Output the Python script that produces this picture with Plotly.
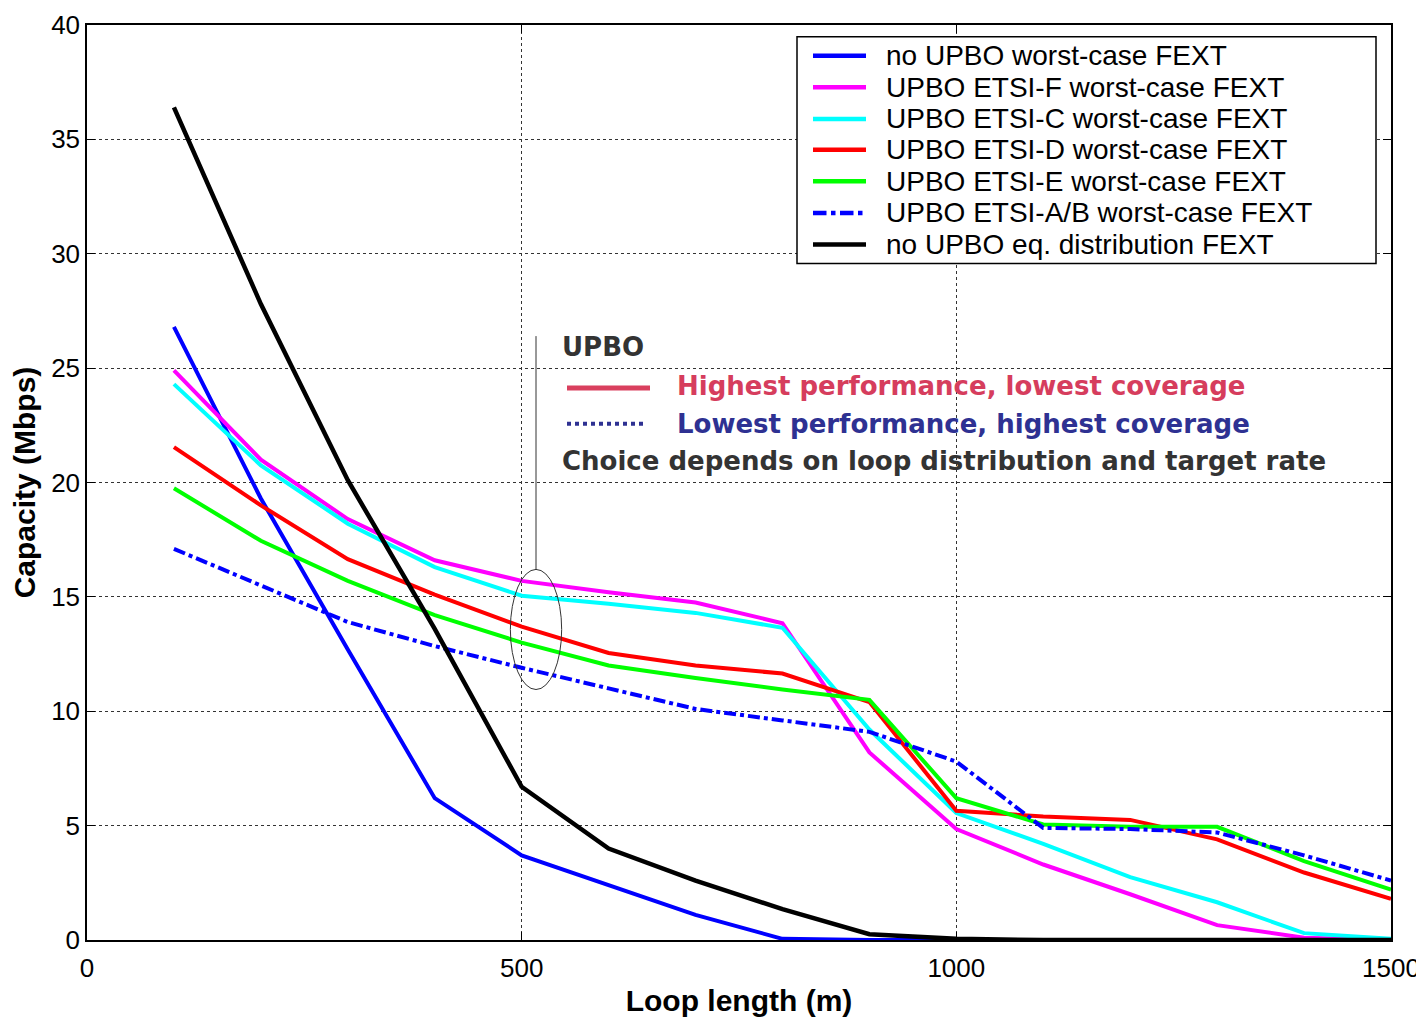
import plotly.graph_objects as go

loop_length = [100, 200, 300, 400, 500, 600, 700, 800, 900, 1000, 1100, 1200, 1300, 1400, 1500]

no_upbo_wc = [26.8, 19.3, 12.7, 6.2, 3.7, 2.4, 1.1, 0.05, 0.0, 0.0, 0.0, 0.0, 0.0, 0.0, 0.0]
etsi_f = [24.9, 21.0, 18.4, 16.6, 15.7, 15.2, 14.75, 13.85, 8.2, 4.85, 3.3, 2.0, 0.65, 0.1, 0.0]
etsi_c = [24.3, 20.75, 18.2, 16.3, 15.05, 14.7, 14.3, 13.65, 9.2, 5.55, 4.2, 2.75, 1.65, 0.3, 0.05]
etsi_d = [21.55, 19.0, 16.65, 15.1, 13.7, 12.55, 12.0, 11.65, 10.4, 5.65, 5.4, 5.25, 4.4, 2.95, 1.8]
etsi_e = [19.75, 17.45, 15.7, 14.2, 13.0, 12.0, 11.45, 10.95, 10.5, 6.2, 5.05, 4.95, 4.95, 3.45, 2.2]
etsi_ab = [17.1, 15.5, 13.9, 12.85, 11.9, 11.0, 10.1, 9.6, 9.1, 7.8, 4.9, 4.85, 4.7, 3.7, 2.6]
no_upbo_eq = [36.4, 27.8, 20.1, 13.6, 6.7, 4.0, 2.6, 1.35, 0.25, 0.05, 0.0, 0.0, 0.0, 0.0, 0.0]

series_names = [
    "no UPBO worst-case FEXT",
    "UPBO ETSI-F worst-case FEXT",
    "UPBO ETSI-C worst-case FEXT",
    "UPBO ETSI-D worst-case FEXT",
    "UPBO ETSI-E worst-case FEXT",
    "UPBO ETSI-A/B worst-case FEXT",
    "no UPBO eq. distribution FEXT",
]
series_values = [no_upbo_wc, etsi_f, etsi_c, etsi_d, etsi_e, etsi_ab, no_upbo_eq]
series_colors = ["#0000ff", "#ff00ff", "#00ffff", "#ff0000", "#00ff00", "#0000ff", "#000000"]
series_dash = ["solid", "solid", "solid", "solid", "solid", "dashdot", "solid"]
series_width = [4, 4, 4, 4, 4, 4, 4.5]

x_ticks = [0, 500, 1000, 1500]
y_ticks = [0, 5, 10, 15, 20, 25, 30, 35, 40]

note_lines = [
    "UPBO",
    "Highest performance, lowest coverage",
    "Lowest performance, highest coverage",
    "Choice depends on loop distribution and target rate",
]

# page has an 8px body margin; plot area wanted at these screen pixels
OFF = 8
L, R, T, B = 87, 1391, 25, 940
W_PX, H_PX = R - L, B - T
# reference pixel frame (top of plot at y=15) used for decorations
REF_T = 15


def px(x):
    return (x - L) / W_PX


def py(y):
    # map reference y pixel to paper fraction, keeping relative position within plot
    return (B - y) / (B - REF_T)


fig = go.Figure()
for name, vals, color, dash, w in zip(series_names, series_values, series_colors,
                                      series_dash, series_width):
    fig.add_trace(go.Scatter(x=loop_length, y=vals, mode="lines", name=name,
                             showlegend=False,
                             line=dict(color=color, width=w, dash=dash)))

axis_common = dict(
    showline=True, linecolor="black", linewidth=1.5, mirror="ticks",
    ticks="inside", ticklen=8, tickcolor="black",
    showgrid=True, gridcolor="#333333", griddash="dot", gridwidth=1,
    zeroline=False, automargin=False, ticklabeloverflow="allow",
    tickfont=dict(family="Liberation Sans, Arial", size=26, color="black"),
)

fig.update_layout(
    width=1424 - OFF, height=1017 - OFF,
    margin=dict(l=L - OFF, r=1424 - R, t=T - OFF, b=1017 - B),
    paper_bgcolor="white", plot_bgcolor="white",
    showlegend=False,
    xaxis=dict(range=[0, 1500], tickvals=x_ticks, ticklabelstandoff=4,
               title=dict(text="<b>Loop length (m)</b>", standoff=12,
                          font=dict(family="Liberation Sans, Arial", size=30, color="black")),
               **axis_common),
    yaxis=dict(range=[0, 40], tickvals=y_ticks,
               title=dict(text="<b>Capacity (Mbps)</b>", standoff=12,
                          font=dict(family="Liberation Sans, Arial", size=30, color="black")),
               **axis_common),
)

# Custom legend box (matches original compact spacing)
fig.add_shape(type="rect", xref="paper", yref="paper", x0=px(797), x1=px(1376),
              y0=py(256), y1=py(27), line=dict(color="black", width=1.5),
              fillcolor="white", layer="above")
legend_y = [46, 78, 110, 141, 173, 205, 237]
for name, color, dash, ly in zip(series_names, series_colors, series_dash, legend_y):
    fig.add_shape(type="line", xref="paper", yref="paper", x0=px(813), x1=px(866),
                  y0=py(ly), y1=py(ly), layer="above",
                  line=dict(color=color, width=4.5, dash=dash))
    fig.add_annotation(x=px(884), y=py(ly), xref="paper", yref="paper", text=name,
                       showarrow=False, xanchor="left", yanchor="middle",
                       font=dict(family="Liberation Sans, Arial", size=28, color="black"))

# Ellipse and leader line
fig.add_shape(type="circle", xref="x", yref="y", x0=487, x1=546, y0=10.95, y1=16.2,
              line=dict(color="#333333", width=1))
fig.add_shape(type="line", xref="x", yref="y", x0=516.5, x1=516.5, y0=16.2, y1=26.4,
              line=dict(color="#333333", width=1))

# Note sample lines
fig.add_shape(type="line", xref="paper", yref="paper", x0=px(567), x1=px(650),
              y0=py(382), y1=py(382), line=dict(color="#d9405e", width=5))
fig.add_shape(type="line", xref="paper", yref="paper", x0=px(567), x1=px(645),
              y0=py(418), y1=py(418), line=dict(color="#2e3192", width=4, dash="dot"))

txt_font = "DejaVu Sans"
note_pos = [(341, 560, "#333333"), (380, 675, "#d63d5d"), (418, 675, "#2e3192"),
            (456, 560, "#333333")]
for text, (ypx, xpx, col) in zip(note_lines, note_pos):
    fig.add_annotation(x=px(xpx), y=py(ypx), xref="paper", yref="paper",
                       text="<b>" + text + "</b>", showarrow=False,
                       xanchor="left", yanchor="middle",
                       font=dict(family=txt_font, size=26, color=col))

fig.write_html("out.html")
